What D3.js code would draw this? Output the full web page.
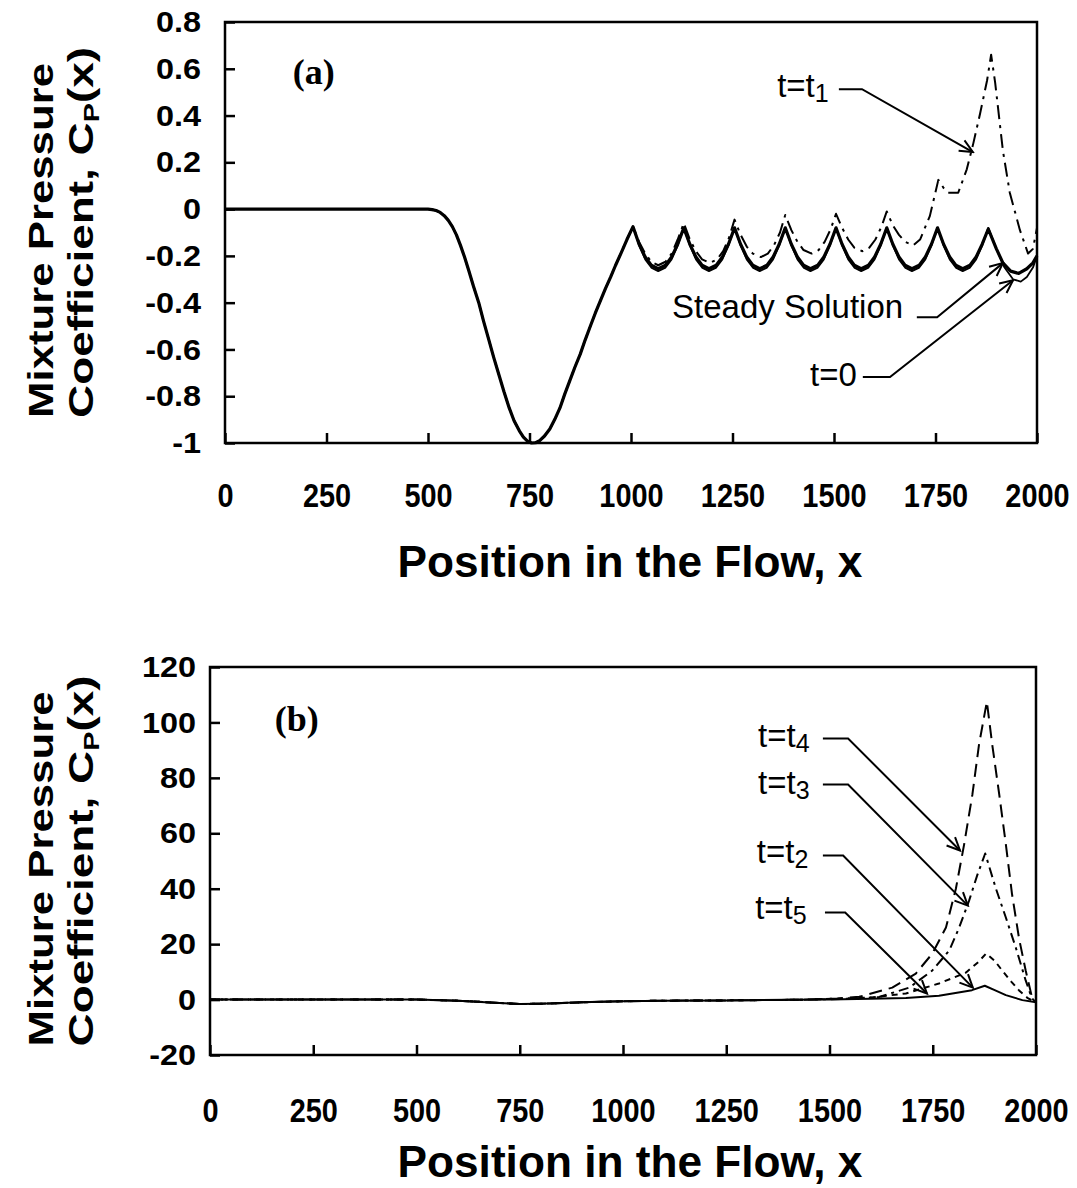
<!DOCTYPE html>
<html>
<head>
<meta charset="utf-8">
<script src="https://cdn.jsdelivr.net/npm/d3@7"></script>
<style>
  body { margin: 0; background: #fff; }
  svg text { font-family: "Liberation Sans", Arial, Helvetica, sans-serif; fill: #000; }
</style>
</head>
<body>
<svg id="chart" width="1077" height="1188"></svg>
<script>
// ---- tick labels ----
const xTicks = [0, 250, 500, 750, 1000, 1250, 1500, 1750, 2000];
const yTicksA = [-1, -0.8, -0.6, -0.4, -0.2, 0, 0.2, 0.4, 0.6, 0.8];
const yTicksB = [-20, 0, 20, 40, 60, 80, 100, 120];

// ---- panel (a): shared entry region and dip ----
const dipA = [[0,0],[250,0],[500,0],[510,-0.002],[520,-0.006],[530,-0.014],[540,-0.028],[550,-0.048],
  [560,-0.075],[570,-0.11],[580,-0.155],[590,-0.205],[600,-0.26],[612,-0.33],[625,-0.4],[637,-0.48],
  [650,-0.56],[662,-0.635],[675,-0.71],[687,-0.78],[700,-0.85],[712,-0.905],[725,-0.948],[735,-0.975],
  [745,-0.992],[755,-1.0],[765,-0.999],[775,-0.99],[787,-0.97],[800,-0.94],[812,-0.9],[825,-0.85],
  [837,-0.79],[850,-0.73],[862,-0.675],[875,-0.62],[887,-0.56],[900,-0.5],[912,-0.445],[925,-0.39],
  [937,-0.34],[950,-0.29],[962,-0.24],[975,-0.19],[990,-0.13],[1005,-0.075]];

// steady solution (scalloped tail)
const steadyTailA = [
  [1020,-0.15],[1035,-0.205],[1050,-0.24],[1067,-0.255],[1085,-0.24],[1100,-0.205],[1115,-0.15],[1130,-0.08],
  [1145,-0.15],[1160,-0.205],[1175,-0.24],[1192,-0.255],[1210,-0.24],[1225,-0.205],[1240,-0.15],[1255,-0.08],
  [1270,-0.15],[1285,-0.205],[1300,-0.24],[1317,-0.255],[1335,-0.24],[1350,-0.205],[1365,-0.15],[1380,-0.08],
  [1395,-0.15],[1410,-0.205],[1425,-0.24],[1442,-0.255],[1460,-0.24],[1475,-0.205],[1490,-0.15],[1505,-0.08],
  [1520,-0.15],[1535,-0.205],[1550,-0.24],[1567,-0.255],[1585,-0.24],[1600,-0.205],[1615,-0.15],[1630,-0.08],
  [1645,-0.15],[1660,-0.205],[1675,-0.24],[1692,-0.255],[1710,-0.24],[1725,-0.205],[1740,-0.15],[1755,-0.08],
  [1770,-0.15],[1785,-0.205],[1800,-0.24],[1817,-0.255],[1835,-0.24],[1850,-0.205],[1865,-0.15],[1880,-0.085],
  [1900,-0.17],[1916,-0.23],[1935,-0.265],[1955,-0.275],[1975,-0.255],[1990,-0.23],[2000,-0.2]];

// t = 0
const t0TailA = [
  [1020,-0.155],[1035,-0.215],[1050,-0.25],[1067,-0.265],[1085,-0.25],[1100,-0.215],[1115,-0.155],[1130,-0.08],
  [1145,-0.155],[1160,-0.215],[1175,-0.25],[1192,-0.265],[1210,-0.25],[1225,-0.215],[1240,-0.155],[1255,-0.08],
  [1270,-0.155],[1285,-0.215],[1300,-0.25],[1317,-0.265],[1335,-0.25],[1350,-0.215],[1365,-0.155],[1380,-0.08],
  [1395,-0.155],[1410,-0.215],[1425,-0.25],[1442,-0.265],[1460,-0.25],[1475,-0.215],[1490,-0.155],[1505,-0.08],
  [1520,-0.155],[1535,-0.215],[1550,-0.25],[1567,-0.265],[1585,-0.25],[1600,-0.215],[1615,-0.155],[1630,-0.08],
  [1645,-0.155],[1660,-0.215],[1675,-0.25],[1692,-0.265],[1710,-0.25],[1725,-0.215],[1740,-0.155],[1755,-0.08],
  [1770,-0.155],[1785,-0.215],[1800,-0.25],[1817,-0.265],[1835,-0.25],[1850,-0.215],[1865,-0.155],[1880,-0.08],
  [1900,-0.17],[1920,-0.25],[1941,-0.3],[1960,-0.31],[1975,-0.29],[1990,-0.25],[2000,-0.2]];

// t = t1
const t1TailA = [
  [1020,-0.14],[1035,-0.19],[1050,-0.225],[1067,-0.24],[1085,-0.225],[1100,-0.19],[1115,-0.13],[1130,-0.06],
  [1145,-0.13],[1160,-0.18],[1175,-0.215],[1195,-0.23],[1212,-0.215],[1227,-0.18],[1242,-0.12],[1255,-0.045],
  [1270,-0.11],[1285,-0.16],[1300,-0.19],[1320,-0.205],[1337,-0.19],[1352,-0.155],[1367,-0.1],[1380,-0.025],
  [1395,-0.09],[1410,-0.14],[1425,-0.175],[1445,-0.19],[1462,-0.175],[1477,-0.14],[1492,-0.085],[1505,-0.02],
  [1520,-0.08],[1535,-0.13],[1550,-0.165],[1570,-0.18],[1587,-0.165],[1602,-0.13],[1617,-0.075],[1630,-0.01],
  [1645,-0.07],[1660,-0.11],[1675,-0.14],[1695,-0.155],[1712,-0.13],[1736,-0.03],[1757,0.125],[1770,0.09],
  [1781,0.07],[1806,0.07],[1827,0.17],[1843,0.28],[1860,0.41],[1877,0.55],[1887,0.66],[1897,0.54],
  [1916,0.25],[1933,0.07],[1958,-0.09],[1978,-0.19],[1990,-0.17],[2000,-0.08]];

// ---- panel (b) ----
const baseB = [[0,0],[250,0],[500,0],[600,-0.4],[700,-1.2],[750,-1.6],[800,-1.5],[900,-1.0],
  [1000,-0.6],[1100,-0.4],[1250,-0.3],[1400,-0.1]];
const t5TailB = [[1500,0],[1600,0.3],[1685,0.6],[1765,1.4],[1845,3.4],[1876,5],[1900,3.4],[1927,1.6],[1967,-0.2],[2000,-1]];
const t2TailB = [[1450,0],[1550,0.5],[1604,0.8],[1685,2.2],[1765,5.8],[1830,9.7],[1860,13.5],[1879,16.6],
  [1900,14],[1918,10.5],[1940,6.5],[1959,3.3],[1980,0.5],[2000,-1]];
const t3TailB = [[1450,0],[1550,0.3],[1620,0.9],[1693,4.3],[1749,10.5],[1790,17.7],[1814,26],[1838,35.7],
  [1858,45],[1877,52.7],[1903,40],[1927,29.6],[1951,18.8],[1975,6.9],[1990,0.5],[2000,-1]];
const t4TailB = [[1450,0],[1520,0.4],[1572,1],[1652,4.3],[1709,9.4],[1749,16.6],[1782,26],[1806,40],
  [1826,56],[1846,74],[1862,92],[1881,107.5],[1894,92],[1911,74],[1927,56],[1942,38],[1959,22],
  [1975,10.5],[1990,1],[2000,-1]];

const svg = d3.select("#chart");

svg.append("defs").append("marker")
    .attr("id", "arrow")
    .attr("viewBox", "-15 -8 17 16")
    .attr("refX", 0).attr("refY", 0)
    .attr("markerWidth", 17).attr("markerHeight", 16)
    .attr("markerUnits", "userSpaceOnUse")
    .attr("orient", "auto")
  .append("path")
    .attr("d", "M-13,-6L0,0L-13,6")
    .attr("fill", "none")
    .attr("stroke", "#000")
    .attr("stroke-width", 2);

// rotated title squeezed/stretched to a given length
function yTitle(g, bx, cy, parts, len) {
    var t = g.append("text")
        .attr("text-anchor", "middle")
        .attr("font-size", 35)
        .attr("font-weight", "bold");
    parts.forEach(p => {
        var s = t.append("tspan").text(p.text);
        if (p.sub) s.attr("font-size", 22).attr("dy", 6);
        if (p.back) s.attr("dy", -6);
    });
    var k = len / t.node().getComputedTextLength();
    t.attr("transform", `translate(${bx},${cy}) rotate(-90) scale(${k},1)`);
}

function xTitle(g, cx, by, str, len) {
    var t = g.append("text")
        .attr("text-anchor", "middle")
        .attr("font-size", 45)
        .attr("font-weight", "bold")
        .text(str);
    var k = len / t.node().getComputedTextLength();
    t.attr("transform", `translate(${cx},${by}) scale(${k},1)`);
}

function drawPanel(o) {
    var x = d3.scaleLinear().domain([0, 2000]).range([o.left, o.right]);
    var y = d3.scaleLinear().domain(o.yDomain).range([o.bottom, o.top]);
    var g = svg.append("g");

    var line = d3.line().x(d => x(d[0])).y(d => y(d[1]));

    o.series.forEach(s => {
        g.append("path")
            .datum(s.data)
            .attr("d", line)
            .attr("fill", "none")
            .attr("stroke", "#000")
            .attr("stroke-width", s.w)
            .attr("stroke-dasharray", s.dash || null)
            .attr("stroke-linejoin", "round");
    });

    // frame
    g.append("rect")
        .attr("x", o.left).attr("y", o.top)
        .attr("width", o.right - o.left).attr("height", o.bottom - o.top)
        .attr("fill", "none").attr("stroke", "#000").attr("stroke-width", 2.5);

    // bottom axis, inward ticks
    var ax = g.append("g")
        .attr("transform", `translate(0,${o.bottom})`)
        .call(d3.axisBottom(x).tickValues(xTicks).tickSizeInner(-10).tickSizeOuter(0)
            .tickPadding(o.xPad).tickFormat(d3.format("d")));
    ax.select(".domain").remove();
    ax.attr("font-family", null).attr("font-size", null);
    ax.selectAll("line").attr("stroke-width", 2.5);
    ax.selectAll("text")
        .attr("font-size", 34).attr("font-weight", "bold")
        .attr("transform", "scale(0.85,1)");

    // left axis, inward ticks
    var ay = g.append("g")
        .attr("transform", `translate(${o.left},0)`)
        .call(d3.axisLeft(y).tickValues(o.yTicks).tickSizeInner(-10).tickSizeOuter(0)
            .tickPadding(0).tickFormat(d => String(+d.toFixed(1))));
    ay.select(".domain").remove();
    ay.attr("font-family", null).attr("font-size", null);
    ay.selectAll("line").attr("stroke-width", 2.5);
    ay.selectAll("text")
        .attr("x", null)
        .attr("font-size", 30).attr("font-weight", "bold")
        .attr("transform", `translate(${-o.yPad},0) scale(1.08,1)`);

    // panel label
    g.append("text")
        .attr("x", x(o.tag.x)).attr("y", y(o.tag.y))
        .style("font-family", "'Liberation Serif','Times New Roman',serif")
        .attr("font-size", 36).attr("font-weight", "bold")
        .text(o.tag.text);

    // annotations with arrows
    o.notes.forEach(a => {
        var t = g.append("text")
            .attr("x", x(a.tx)).attr("y", y(a.ty))
            .attr("font-size", 33);
        t.append("tspan").text(a.text);
        if (a.sub) t.append("tspan").attr("font-size", 25).attr("dy", 5).text(a.sub);
        g.append("path")
            .attr("d", d3.line()([[x(a.lx0), y(a.ly)], [x(a.lx1), y(a.ly)], [x(a.px), y(a.py)]]))
            .attr("fill", "none")
            .attr("stroke", "#000")
            .attr("stroke-width", 2)
            .attr("marker-end", "url(#arrow)");
    });

    // titles
    yTitle(g, 53, (o.top + o.bottom) / 2 + 8, [{ text: "Mixture Pressure" }], 355);
    yTitle(g, 93, (o.top + o.bottom) / 2, [{ text: "Coefficient, C" }, { text: "P", sub: true }, { text: "(x)", back: true }], 371);
    xTitle(g, 630, o.bottom + o.titleGap, "Position in the Flow, x", 465);
}

drawPanel({
    left: 225, right: 1037, top: 22, bottom: 443,
    yDomain: [-1, 0.8], yTicks: yTicksA, yPad: 24, xPad: 40, titleGap: 134,
    series: [
        { data: dipA.concat(t1TailA), w: 2, dash: "14,6,3,6" },
        { data: dipA.concat(t0TailA), w: 1.8 },
        { data: dipA.concat(steadyTailA), w: 3.2 }
    ],
    tag: { text: "(a)", x: 167, y: 0.534 },
    notes: [
        { text: "t=t", sub: "1", tx: 1360, ty: 0.479, lx0: 1512, lx1: 1569, ly: 0.513, px: 1842, py: 0.244 },
        { text: "Steady Solution", tx: 1101, ty: -0.466, lx0: 1704, lx1: 1754, ly: -0.462, px: 1916, py: -0.231 },
        { text: "t=0", tx: 1441, ty: -0.757, lx0: 1571, lx1: 1638, ly: -0.718, px: 1941, py: -0.304 }
    ]
});

drawPanel({
    left: 210, right: 1036, top: 667, bottom: 1055,
    yDomain: [-20, 120], yTicks: yTicksB, yPad: 14, xPad: 43, titleGap: 122,
    series: [
        { data: baseB.concat(t4TailB), w: 2, dash: "13,7" },
        { data: baseB.concat(t3TailB), w: 2, dash: "10,5,3,5" },
        { data: baseB.concat(t2TailB), w: 2, dash: "6,5" },
        { data: baseB.concat(t5TailB), w: 2 }
    ],
    tag: { text: "(b)", x: 157, y: 97 },
    notes: [
        { text: "t=t", sub: "4", tx: 1327, ty: 91, lx0: 1484, lx1: 1545, ly: 94.2, px: 1816, py: 53.8 },
        { text: "t=t", sub: "3", tx: 1327, ty: 74, lx0: 1484, lx1: 1545, ly: 77.6, px: 1835, py: 33.9 },
        { text: "t=t", sub: "2", tx: 1324, ty: 49.1, lx0: 1484, lx1: 1533, ly: 52, px: 1847, py: 4.3 },
        { text: "t=t", sub: "5", tx: 1320, ty: 29.2, lx0: 1489, lx1: 1538, ly: 31.4, px: 1736, py: 2.2 }
    ]
});
</script>
</body>
</html>
